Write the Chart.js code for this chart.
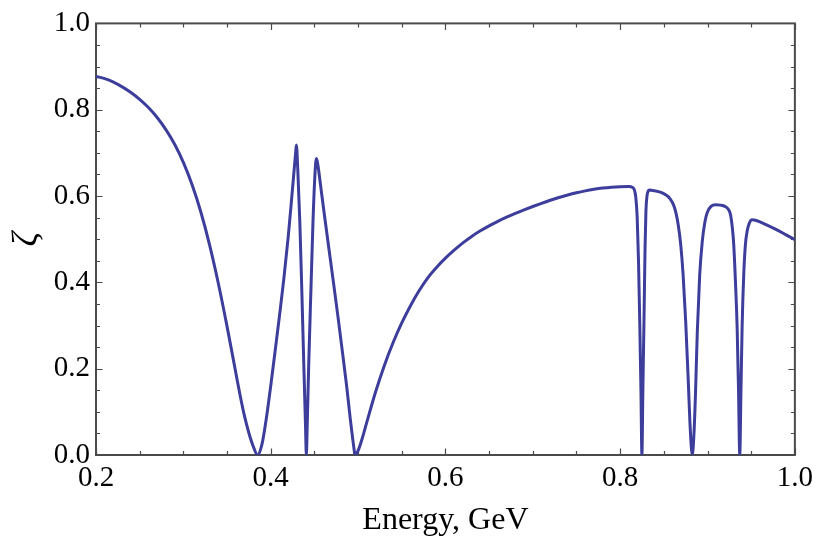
<!DOCTYPE html>
<html>
<head>
<meta charset="utf-8">
<script src="https://cdn.jsdelivr.net/npm/chart.js@4/dist/chart.umd.min.js"></script>
<style>
  html, body { margin: 0; padding: 0; background: #fff; }
  #wrap { width: 819px; height: 538px; }
</style>
</head>
<body>
<div id="wrap"><canvas id="c" width="819" height="538"></canvas></div>
<script>
// Energy (GeV) and the corresponding zeta values
const energy = [
  0.200, 0.210, 0.220, 0.230, 0.240, 0.250, 0.260, 0.270, 0.280, 0.290,
  0.300, 0.310, 0.320, 0.330, 0.340, 0.350, 0.360, 0.365, 0.370, 0.375,
  0.380, 0.385,
  0.390, 0.395, 0.400, 0.405, 0.410, 0.415, 0.420, 0.424, 0.427, 0.4285,
  0.4294, 0.4310, 0.4333, 0.4355, 0.4380, 0.4398, 0.4408,
  0.4418, 0.4435, 0.4461, 0.4484, 0.4505, 0.4522, 0.4535, 0.4555, 0.4580,
  0.4620, 0.4670, 0.4720, 0.4770, 0.4820, 0.4870, 0.4910, 0.4940, 0.4955,
  0.4963,
  0.500, 0.505, 0.510, 0.520, 0.530, 0.540, 0.550, 0.560, 0.570, 0.580,
  0.590, 0.600, 0.610, 0.620, 0.630, 0.640, 0.650, 0.660, 0.670, 0.680,
  0.690, 0.700, 0.710, 0.720, 0.730, 0.740, 0.750, 0.760, 0.770, 0.780,
  0.790, 0.800, 0.810, 0.814, 0.8165, 0.818, 0.8195, 0.821, 0.8225, 0.8238,
  0.8249, 0.826, 0.8272, 0.8285, 0.8295, 0.8307, 0.832, 0.8333, 0.840, 0.846,
  0.852, 0.857, 0.861, 0.864, 0.8665, 0.8693, 0.872, 0.875, 0.878, 0.880,
  0.8826, 0.8845, 0.8862, 0.8883, 0.891, 0.894, 0.897, 0.8997, 0.904, 0.9092,
  0.915, 0.920, 0.924, 0.9265, 0.9285, 0.930, 0.932, 0.9339, 0.9355, 0.9369,
  0.9383, 0.9396, 0.9415, 0.9434, 0.9455, 0.948, 0.951, 0.955, 0.960, 0.970,
  0.980, 0.990, 1.000
];
const zeta = [
  0.877, 0.872, 0.864, 0.853, 0.840, 0.824, 0.805, 0.782, 0.754, 0.720,
  0.678, 0.626, 0.563, 0.487, 0.398, 0.298, 0.191, 0.138, 0.090, 0.051,
  0.020, 0.000,
  0.025, 0.085, 0.160, 0.240, 0.322, 0.408, 0.505, 0.595, 0.665, 0.700,
  0.718, 0.660, 0.541, 0.388, 0.200, 0.070, 0.000,
  0.070, 0.210, 0.388, 0.541, 0.645, 0.687, 0.678, 0.650, 0.610,
  0.548, 0.472, 0.397, 0.320, 0.240, 0.158, 0.085, 0.035, 0.012,
  0.000,
  0.010, 0.040, 0.076, 0.146, 0.207, 0.260, 0.306, 0.346, 0.381, 0.411,
  0.435, 0.456, 0.4745, 0.4915, 0.5065, 0.5195, 0.531, 0.5415, 0.551, 0.5598,
  0.568, 0.5758, 0.5832, 0.5902, 0.5967, 0.6025, 0.6076, 0.612, 0.6157, 0.6186,
  0.6206, 0.6217, 0.622, 0.620, 0.613, 0.595, 0.550, 0.450, 0.300, 0.150,
  0.000, 0.150, 0.300, 0.480, 0.565, 0.600, 0.611, 0.614, 0.612, 0.609,
  0.603, 0.594, 0.580, 0.560, 0.533, 0.488, 0.420, 0.310, 0.170, 0.070,
  0.000, 0.050, 0.140, 0.285, 0.415, 0.495, 0.540, 0.562, 0.576, 0.580,
  0.579, 0.576, 0.569, 0.555, 0.525, 0.488, 0.400, 0.296, 0.150, 0.000,
  0.150, 0.296, 0.420, 0.488, 0.520, 0.538, 0.545, 0.544, 0.540, 0.531,
  0.521, 0.510, 0.499
];

// Labelled tick values
const xTickValues = [0.2, 0.4, 0.6, 0.8, 1.0];
const yTickValues = [0.0, 0.2, 0.4, 0.6, 0.8, 1.0];

const FRAME = '#4a4a4a';
const SERIF = '"Liberation Serif", "DejaVu Serif", serif';

// Frame around the plot with inward major/minor ticks on all four sides
const framePlugin = {
  id: 'frame',
  beforeDatasetsDraw(chart) {
    const { ctx, chartArea: a, scales } = chart;
    const xs = scales.x, ys = scales.y;
    ctx.save();
    ctx.strokeStyle = FRAME;
    ctx.lineWidth = 1.2;
    ctx.beginPath();
    for (let i = 0; i <= 16; i++) {
      const v = 0.2 + i * 0.05;
      const len = (i % 4 === 0) ? 6.5 : 4;
      const px = Math.round(xs.getPixelForValue(v)) + 0.5;
      ctx.moveTo(px, a.bottom); ctx.lineTo(px, a.bottom - len);
      ctx.moveTo(px, a.top); ctx.lineTo(px, a.top + len);
    }
    for (let i = 0; i <= 20; i++) {
      const v = i * 0.05;
      const len = (i % 4 === 0) ? 6.5 : 4;
      const py = Math.round(ys.getPixelForValue(v)) + 0.5;
      ctx.moveTo(a.left, py); ctx.lineTo(a.left + len, py);
      ctx.moveTo(a.right, py); ctx.lineTo(a.right - len, py);
    }
    ctx.stroke();
    ctx.lineWidth = 2;
    ctx.strokeRect(a.left, a.top, a.right - a.left, a.bottom - a.top);
    ctx.restore();
  }
};

new Chart(document.getElementById('c'), {
  type: 'line',
  data: {
    datasets: [{
      data: energy.map((e, i) => ({ x: e, y: zeta[i] })),
      borderColor: '#3d3d9c',
      borderWidth: 3,
      pointRadius: 0,
      fill: false,
      cubicInterpolationMode: 'monotone'
    }]
  },
  options: {
    responsive: false,
    animation: false,
    devicePixelRatio: 1,
    layout: { padding: { top: 21, right: 21, left: 0, bottom: 0 } },
    plugins: { legend: { display: false }, tooltip: { enabled: false } },
    scales: {
      x: {
        type: 'linear',
        min: 0.2,
        max: 1.0,
        afterBuildTicks(scale) { scale.ticks = xTickValues.map(v => ({ value: v })); },
        afterFit(scale) { scale.height = 83; },
        grid: { display: false, drawTicks: false },
        border: { display: false },
        ticks: {
          padding: 6,
          color: '#000',
          font: { family: SERIF, size: 29 },
          maxRotation: 0,
          callback: v => Number(v).toFixed(1)
        },
        title: {
          display: true,
          text: 'Energy, GeV',
          color: '#000',
          font: { family: SERIF, size: 32 },
          padding: { top: 0, bottom: -2 }
        }
      },
      y: {
        type: 'linear',
        min: 0,
        max: 1,
        afterBuildTicks(scale) { scale.ticks = yTickValues.map(v => ({ value: v })); },
        afterFit(scale) { scale.width = 96; },
        grid: { display: false, drawTicks: false },
        border: { display: false },
        ticks: {
          padding: 6,
          color: '#000',
          font: { family: SERIF, size: 29 },
          callback: v => Number(v).toFixed(1)
        },
        title: {
          display: true,
          text: 'ζ',
          color: '#000',
          font: { family: SERIF, size: 36, style: 'italic' },
          padding: { top: 6, bottom: 0 }
        }
      }
    }
  },
  plugins: [framePlugin]
});
</script>
</body>
</html>
